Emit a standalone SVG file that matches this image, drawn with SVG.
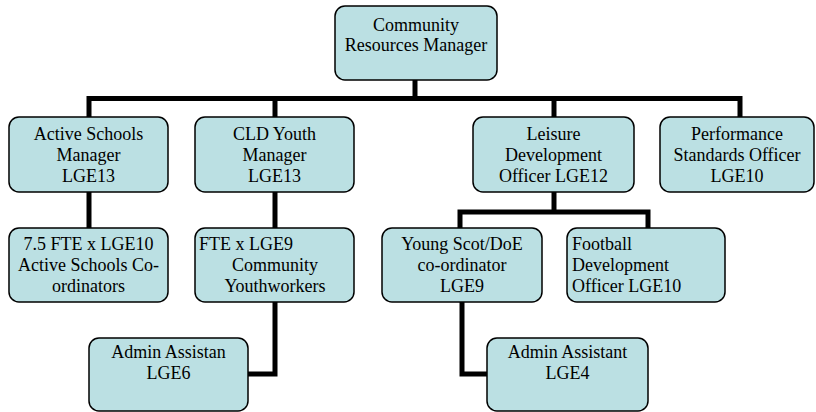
<svg xmlns="http://www.w3.org/2000/svg" width="816" height="412" viewBox="0 0 816 412">
<style>
.box{fill:#bbe0e3;stroke:#000;stroke-width:1.5}
.t{font-family:"Liberation Serif","Times New Roman",serif;font-size:18px;fill:#000;text-anchor:middle}
.l{text-anchor:start}
.c{fill:none;stroke:#000;stroke-width:5;stroke-linejoin:miter;stroke-linecap:butt}
</style>
<rect width="816" height="412" fill="#fff"/>
<g id="connectors">
<path class="c" d="M415,80 V98.5"/>
<path class="c" d="M89,117 V98.5 H740 V117"/>
<path class="c" d="M275,98.5 V117"/>
<path class="c" d="M554,98.5 V117"/>
<path class="c" d="M89,192 V228"/>
<path class="c" d="M275,192 V228"/>
<path class="c" d="M554,192 V212"/>
<path class="c" d="M460,228 V212 H648 V228"/>
<path class="c" d="M275,302 V374 H248"/>
<path class="c" d="M462,302 V374 H487"/>
</g>
<g id="n-crm">
<rect class="box" x="335" y="6" width="162" height="74" rx="10"/>
<text class="t" x="416" y="30.5">Community</text>
<text class="t" x="416" y="51">Resources Manager</text>
</g>
<g id="n-asm">
<rect class="box" x="9" y="117" width="159" height="75" rx="10"/>
<text class="t" x="88.5" y="140">Active Schools</text>
<text class="t" x="88.5" y="161">Manager</text>
<text class="t" x="88.5" y="182">LGE13</text>
</g>
<g id="n-cld">
<rect class="box" x="195" y="117" width="159" height="75" rx="10"/>
<text class="t" x="274.5" y="140">CLD Youth</text>
<text class="t" x="274.5" y="161">Manager</text>
<text class="t" x="274.5" y="182">LGE13</text>
</g>
<g id="n-ldo">
<rect class="box" x="473" y="117" width="161" height="75" rx="10"/>
<text class="t" x="553.5" y="140">Leisure</text>
<text class="t" x="553.5" y="161">Development</text>
<text class="t" x="553.5" y="182">Officer LGE12</text>
</g>
<g id="n-pso">
<rect class="box" x="660" y="117" width="154" height="75" rx="10"/>
<text class="t" x="737" y="140">Performance</text>
<text class="t" x="737" y="161">Standards Officer</text>
<text class="t" x="737" y="182">LGE10</text>
</g>
<g id="n-asc">
<rect class="box" x="9" y="228" width="159" height="74" rx="10"/>
<text class="t" x="88.5" y="250">7.5 FTE x LGE10</text>
<text class="t" x="88.5" y="271">Active Schools Co-</text>
<text class="t" x="88.5" y="292">ordinators</text>
</g>
<g id="n-cyw">
<rect class="box" x="195" y="228" width="159" height="74" rx="10"/>
<text class="t l" x="199" y="250">FTE x LGE9</text>
<text class="t" x="275" y="271">Community</text>
<text class="t" x="275" y="292">Youthworkers</text>
</g>
<g id="n-ysd">
<rect class="box" x="382" y="228" width="160" height="74" rx="10"/>
<text class="t" x="462" y="250">Young Scot/DoE</text>
<text class="t" x="462" y="271">co-ordinator</text>
<text class="t" x="462" y="292">LGE9</text>
</g>
<g id="n-fdo">
<rect class="box" x="567" y="228" width="158" height="74" rx="10"/>
<text class="t l" x="572" y="250">Football</text>
<text class="t l" x="572" y="271">Development</text>
<text class="t l" x="572" y="292">Officer LGE10</text>
</g>
<g id="n-aa6">
<rect class="box" x="89" y="338" width="159" height="73" rx="10"/>
<text class="t" x="168.5" y="358">Admin Assistan</text>
<text class="t" x="168.5" y="379">LGE6</text>
</g>
<g id="n-aa4">
<rect class="box" x="487" y="338" width="161" height="73" rx="10"/>
<text class="t" x="567.5" y="358">Admin Assistant</text>
<text class="t" x="567.5" y="379">LGE4</text>
</g>
</svg>
